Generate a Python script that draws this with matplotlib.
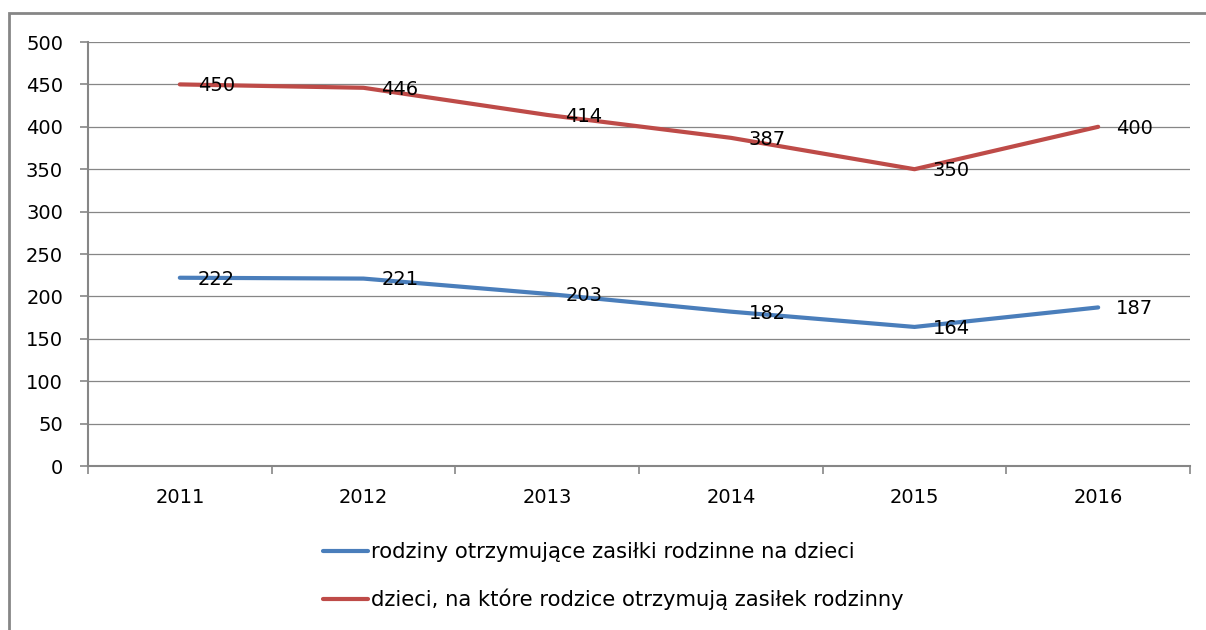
import matplotlib
matplotlib.use("Agg")
import matplotlib.pyplot as plt
from matplotlib.patches import Rectangle

years = ["2011", "2012", "2013", "2014", "2015", "2016"]
rodziny = [222, 221, 203, 182, 164, 187]
dzieci = [450, 446, 414, 387, 350, 400]
label_rodziny = "rodziny otrzymujące zasiłki rodzinne na dzieci"
label_dzieci = "dzieci, na które rodzice otrzymują zasiłek rodzinny"
yticks = [0, 50, 100, 150, 200, 250, 300, 350, 400, 450, 500]

plt.rcParams['font.family'] = ['DejaVu Sans']
W, H = 1206, 630
fig = plt.figure(figsize=(W / 100, H / 100), dpi=100)
ax = fig.add_axes([88 / W, 1 - 466 / H, (1190 - 88) / W, (466 - 42) / H])

gray = "#868686"
blue = "#4A7EBB"
red = "#BE4B48"
x = list(range(len(years)))

ax.plot(x, rodziny, color=blue, lw=3, solid_capstyle='round', label=label_rodziny, zorder=3)
ax.plot(x, dzieci, color=red, lw=3, solid_capstyle='round', label=label_dzieci, zorder=3)

for xi, v in zip(x, rodziny):
    ax.annotate(str(v), (xi, v), xytext=(13, -1), textcoords='offset points',
                ha='left', va='center', fontsize=14, color='black', zorder=4)
for xi, v in zip(x, dzieci):
    ax.annotate(str(v), (xi, v), xytext=(13, -1), textcoords='offset points',
                ha='left', va='center', fontsize=14, color='black', zorder=4)

ax.set_xlim(-0.5, len(years) - 0.5)
ax.set_ylim(0, 500)
ax.set_yticks(yticks)
ax.set_yticklabels([str(t) for t in yticks], fontsize=14)
ax.set_xticks(x)
ax.set_xticklabels(years, fontsize=14)
ax.set_xticks([i - 0.5 for i in range(len(years) + 1)], minor=True)
ax.tick_params(axis='x', which='major', length=0, pad=16)
ax.tick_params(axis='x', which='minor', length=6, width=1.2, color=gray)
ax.tick_params(axis='y', length=6, width=1.2, color=gray, pad=12)

ax.grid(axis='y', color=gray, lw=0.9)
ax.set_axisbelow(True)
for s in ['top', 'right']:
    ax.spines[s].set_visible(False)
for s in ['left', 'bottom']:
    ax.spines[s].set_color(gray)
    ax.spines[s].set_linewidth(1.5)

fig.legend(loc='center left', bbox_to_anchor=(323 / W, 1 - 576 / H), frameon=False,
           fontsize=15.2, handlelength=2.15, handletextpad=0.12, labelspacing=1.25,
           borderpad=0, borderaxespad=0)

fig.add_artist(Rectangle((9 / W, -0.1), 1.2, 1 - 13 / H + 0.1, transform=fig.transFigure,
                         fill=False, edgecolor=gray, lw=2))

fig.savefig("out.png", dpi=100)
